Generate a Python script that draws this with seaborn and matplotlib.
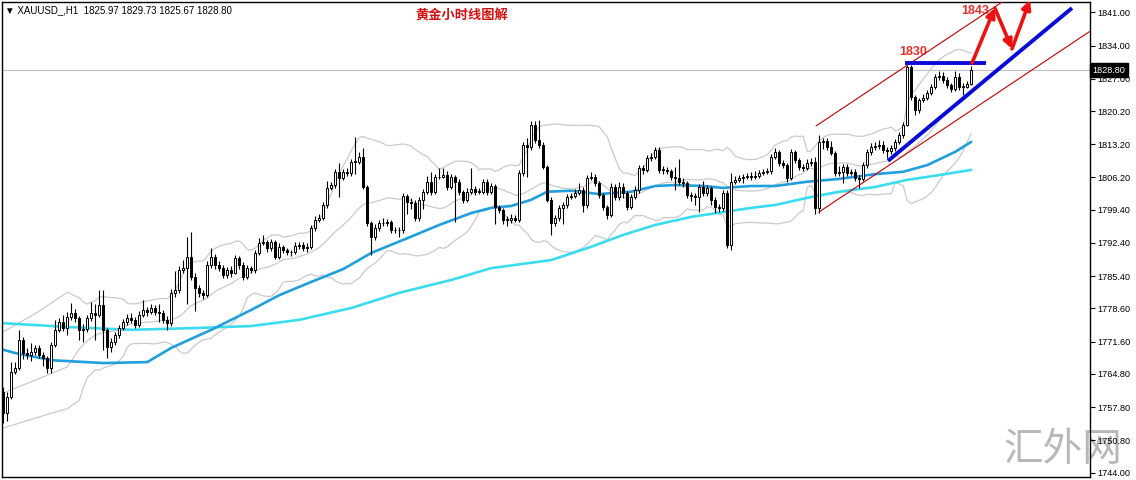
import numpy as np
import pandas as pd
import matplotlib
matplotlib.use("Agg")
import matplotlib.pyplot as plt
import matplotlib.transforms as mtransforms
import seaborn as sns

# --- hourly XAUUSD candles, open = previous close ---
first_open = 1761.0
closes = [
    1756.6, 1760.0, 1765.2, 1766.1, 1772.0, 1769.2, 1768.8, 1769.4, 1770.3, 1768.8,
    1768.2, 1766.1, 1770.9, 1774.1, 1775.8, 1774.5, 1776.8, 1777.7, 1776.6, 1774.1,
    1774.3, 1776.6, 1777.7, 1777.2, 1779.3, 1774.1, 1770.5, 1771.5, 1773.0, 1774.5,
    1775.8, 1776.6, 1776.2, 1775.1, 1777.2, 1778.3, 1777.9, 1778.7, 1777.9, 1777.7,
    1776.2, 1775.5, 1781.9, 1782.5, 1786.7, 1787.1, 1789.5, 1785.2, 1782.9, 1781.9,
    1781.4, 1787.8, 1789.5, 1787.8, 1787.1, 1785.7, 1786.7, 1786.1, 1789.2, 1787.8,
    1785.2, 1787.1, 1786.7, 1790.3, 1792.4, 1792.6, 1791.4, 1792.6, 1789.5, 1791.6,
    1790.9, 1790.5, 1790.5, 1791.8, 1792.0, 1791.4, 1791.6, 1795.6, 1797.3, 1797.7,
    1800.4, 1804.0, 1804.6, 1807.4, 1806.1, 1807.4, 1807.2, 1809.5, 1809.5, 1810.5,
    1804.2, 1796.6, 1793.7, 1795.6, 1796.6, 1796.6, 1796.8, 1795.1, 1795.1, 1795.1,
    1802.3, 1801.0, 1800.8, 1797.7, 1801.5, 1803.2, 1805.3, 1803.2, 1806.3, 1806.3,
    1806.7, 1804.2, 1806.3, 1805.3, 1803.2, 1801.5, 1803.2, 1803.8, 1803.2, 1803.2,
    1805.3, 1803.2, 1804.4, 1800.0, 1799.4, 1797.3, 1797.3, 1797.7, 1797.3, 1807.2,
    1813.1, 1812.6, 1817.3, 1814.1, 1813.1, 1808.4, 1801.5, 1796.6, 1797.7, 1799.8,
    1800.4, 1802.1, 1802.3, 1802.9, 1803.6, 1800.4, 1806.1, 1806.3, 1805.0, 1802.5,
    1800.0, 1798.3, 1804.2, 1802.1, 1804.2, 1802.9, 1800.0, 1802.1, 1803.6, 1808.2,
    1807.8, 1810.3, 1810.5, 1812.0, 1807.8, 1807.8, 1807.6, 1806.3, 1806.1, 1805.3,
    1805.0, 1802.5, 1802.3, 1802.1, 1804.2, 1802.9, 1804.0, 1801.5, 1800.0, 1799.8,
    1802.9, 1792.0, 1805.3, 1805.7, 1806.1, 1806.3, 1806.5, 1806.3, 1806.5, 1807.2,
    1807.4, 1807.6, 1810.5, 1811.6, 1809.3, 1808.8, 1806.1, 1811.6, 1809.9, 1808.4,
    1808.2, 1809.3, 1809.5, 1799.8, 1813.7, 1813.9, 1812.6, 1811.4, 1807.2, 1807.4,
    1808.4, 1807.2, 1807.4, 1806.1, 1805.9, 1808.8, 1811.6, 1812.6, 1812.8, 1813.1,
    1812.0, 1811.8, 1812.4, 1813.7, 1815.2, 1817.3, 1829.5, 1823.2, 1820.4, 1822.5,
    1823.0, 1824.0, 1825.3, 1827.4, 1827.6, 1826.7, 1825.7, 1824.9, 1827.4, 1825.3,
    1825.3, 1825.97, 1828.8,
]
highs = [
    1762.1, 1761.0, 1767.3, 1767.3, 1774.1, 1772.6, 1770.3, 1771.4, 1771.0, 1770.9,
    1769.4, 1768.6, 1771.5, 1776.2, 1776.6, 1777.2, 1777.9, 1779.7, 1778.5, 1777.0,
    1775.4, 1777.2, 1780.0, 1779.5, 1782.5, 1782.5, 1774.5, 1772.4, 1773.6, 1775.1,
    1776.4, 1777.4, 1777.7, 1776.8, 1778.0, 1780.3, 1779.0, 1779.5, 1779.3, 1779.5,
    1778.2, 1777.0, 1782.6, 1786.5, 1787.5, 1788.9, 1793.7, 1794.7, 1786.0, 1783.5,
    1782.5, 1788.5, 1791.3, 1790.0, 1788.5, 1787.8, 1787.4, 1787.5, 1789.9, 1789.7,
    1788.3, 1787.7, 1787.6, 1791.0, 1793.5, 1794.1, 1793.0, 1793.2, 1793.0, 1792.4,
    1792.0, 1791.4, 1791.0, 1792.5, 1792.6, 1792.5, 1792.3, 1796.2, 1798.0, 1798.6,
    1801.0, 1805.5, 1805.2, 1808.0, 1809.3, 1808.0, 1808.2, 1810.1, 1814.7, 1811.5,
    1812.4, 1804.6, 1797.0, 1796.3, 1797.2, 1797.6, 1797.4, 1797.2, 1795.8, 1795.7,
    1803.0, 1802.8, 1801.8, 1801.5, 1802.0, 1803.8, 1806.5, 1807.4, 1806.9, 1808.2,
    1808.2, 1807.5, 1806.9, 1806.8, 1805.8, 1803.6, 1803.9, 1808.2, 1804.4, 1804.0,
    1805.9, 1805.8, 1805.0, 1804.8, 1800.5, 1799.8, 1798.0, 1798.4, 1798.2, 1807.8,
    1813.7, 1814.5, 1818.0, 1818.0, 1818.4, 1813.6, 1808.9, 1802.0, 1798.3, 1800.3,
    1801.0, 1802.7, 1803.0, 1803.8, 1805.0, 1804.2, 1806.7, 1807.4, 1806.9, 1805.5,
    1803.0, 1800.5, 1805.0, 1804.8, 1805.2, 1805.0, 1803.4, 1802.8, 1804.3, 1808.8,
    1808.9, 1811.0, 1811.4, 1812.6, 1812.6, 1808.6, 1808.5, 1808.0, 1808.5, 1810.0,
    1806.0, 1805.4, 1803.2, 1803.0, 1804.8, 1805.5, 1804.6, 1804.5, 1802.0, 1800.6,
    1803.6, 1803.5, 1807.2, 1806.5, 1806.8, 1807.0, 1807.2, 1807.3, 1807.5, 1807.8,
    1808.0, 1808.3, 1811.2, 1812.4, 1812.0, 1809.8, 1809.3, 1812.2, 1812.0, 1810.4,
    1809.0, 1810.0, 1810.2, 1810.5, 1815.2, 1814.5, 1814.5, 1813.8, 1811.8, 1808.6,
    1809.0, 1809.0, 1808.0, 1808.0, 1806.8, 1809.4, 1812.2, 1813.4, 1813.6, 1814.0,
    1813.8, 1812.6, 1813.1, 1814.4, 1815.8, 1817.9, 1830.0, 1830.0, 1823.6, 1823.0,
    1823.8, 1824.6, 1825.9, 1828.0, 1828.6, 1828.5, 1827.4, 1826.2, 1828.7, 1828.2,
    1826.0, 1826.6, 1829.73,
]
lows = [
    1754.5, 1754.8, 1759.5, 1764.8, 1765.7, 1767.9, 1768.0, 1767.5, 1768.8, 1768.2,
    1766.5, 1765.0, 1765.0, 1770.5, 1773.6, 1773.9, 1773.0, 1776.2, 1775.8, 1772.0,
    1771.5, 1773.6, 1776.0, 1772.0, 1776.8, 1769.8, 1768.2, 1769.5, 1771.0, 1772.4,
    1774.0, 1775.2, 1775.5, 1774.5, 1774.7, 1776.8, 1777.0, 1777.4, 1777.2, 1775.8,
    1775.5, 1774.1, 1775.0, 1781.0, 1781.8, 1786.0, 1779.5, 1784.5, 1778.0, 1781.0,
    1780.5, 1781.0, 1787.2, 1787.0, 1786.5, 1785.0, 1785.0, 1785.2, 1785.8, 1787.0,
    1784.6, 1784.8, 1786.0, 1786.0, 1789.8, 1792.0, 1790.6, 1790.8, 1789.0, 1789.0,
    1790.3, 1789.8, 1789.6, 1790.0, 1791.2, 1790.8, 1790.6, 1791.2, 1795.0, 1796.8,
    1797.2, 1799.8, 1803.5, 1803.9, 1802.1, 1805.6, 1806.5, 1806.5, 1807.0, 1809.0,
    1803.8, 1796.0, 1789.9, 1793.0, 1795.0, 1795.9, 1796.0, 1794.6, 1794.4, 1793.7,
    1794.6, 1798.5, 1799.6, 1797.0, 1797.0, 1799.5, 1802.8, 1802.6, 1802.8, 1805.8,
    1806.0, 1803.6, 1803.8, 1796.8, 1802.6, 1800.8, 1801.0, 1802.8, 1802.6, 1802.7,
    1802.8, 1802.6, 1802.8, 1796.5, 1798.8, 1796.3, 1796.0, 1796.7, 1796.8, 1796.9,
    1806.6, 1806.3, 1812.0, 1813.5, 1812.5, 1807.9, 1801.0, 1794.1, 1796.0, 1797.0,
    1796.3, 1799.8, 1801.6, 1801.8, 1802.5, 1799.0, 1799.7, 1805.6, 1804.5, 1801.9,
    1799.4, 1797.5, 1797.8, 1801.5, 1801.5, 1801.8, 1799.4, 1799.5, 1801.6, 1803.0,
    1807.0, 1807.3, 1809.6, 1810.0, 1807.2, 1807.0, 1806.9, 1805.7, 1803.5, 1804.7,
    1804.2, 1801.8, 1801.2, 1800.5, 1799.0, 1802.3, 1802.4, 1800.3, 1798.8, 1799.0,
    1799.2, 1791.4, 1791.0, 1804.8, 1805.2, 1805.0, 1805.8, 1805.6, 1805.8, 1806.0,
    1806.8, 1806.9, 1807.0, 1810.0, 1808.7, 1808.2, 1805.3, 1805.6, 1809.2, 1807.8,
    1807.5, 1807.7, 1808.7, 1798.5, 1798.8, 1812.2, 1812.0, 1810.9, 1806.6, 1806.5,
    1805.0, 1806.6, 1806.8, 1805.5, 1804.0, 1805.5, 1808.2, 1811.0, 1812.0, 1812.3,
    1811.4, 1810.3, 1811.2, 1811.8, 1813.2, 1814.6, 1817.0, 1822.6, 1819.3, 1819.8,
    1822.0, 1822.5, 1823.5, 1824.8, 1826.8, 1826.1, 1825.1, 1824.3, 1824.4, 1824.7,
    1823.6, 1825.0, 1825.67,
]

# --- moving averages (bar index, price) ---
ma_fast_idx = [0, 3, 12, 25, 36, 42, 52, 62, 69, 77, 85, 92, 101, 109, 117, 122, 127, 132, 136,
               142, 149, 157, 163, 168, 175, 180, 187, 193, 201, 209, 218, 225, 231, 238, 242]
ma_fast_val = [1769.9, 1769.2, 1767.7, 1767.1, 1767.3, 1770.3, 1774.1, 1778.3, 1781.4, 1784.2,
               1786.9, 1790.3, 1793.4, 1796.2, 1798.7, 1799.8, 1800.2, 1801.5, 1803.2, 1803.4,
               1802.7, 1803.2, 1804.4, 1804.6, 1804.4, 1804.0, 1804.4, 1804.4, 1805.3, 1805.9,
               1806.9, 1807.4, 1808.8, 1811.6, 1813.7]
ma_slow_idx = [0, 16, 32, 49, 62, 74, 87, 99, 112, 122, 137, 147, 155, 163, 172, 180, 187, 193,
               201, 209, 218, 226, 234, 242]
ma_slow_val = [1775.5, 1774.7, 1774.1, 1774.5, 1774.9, 1776.2, 1778.7, 1781.9, 1784.6, 1787.1,
               1788.8, 1791.6, 1794.1, 1796.2, 1797.9, 1798.9, 1799.8, 1800.4, 1801.9, 1803.2,
               1804.2, 1805.7, 1806.7, 1807.8]

# Bollinger(20, 2) is drawn from the closes; before bar 19 the history is off-chart,
# so the first stretch of each band is read from the picture
bb_period = 20
bb_head_idx = [0, 8, 16]
bb_head_upper = [1773.7, 1777.5, 1782.0]
bb_head_mid = [1760.8, 1763.5, 1766.3]
bb_head_lower = [1753.4, 1755.5, 1757.5]

# --- hand-drawn analysis objects ---
channel_upper_x = [203.2, 271.7]
channel_upper_y = [1817.05, 1855.5]
channel_lower_x = [203.9, 271.7]
channel_lower_y = [1798.9, 1837.0]
resistance_x = [225.4, 245.7]
resistance_y = [1830.4, 1830.4]
trend_x = [221.2, 267.2]
trend_y = [1809.7, 1841.9]
path_x = [242.2, 247.9, 252.2, 256.7]
path_y = [1830.3, 1841.9, 1833.3, 1843.6]

ytick_vals = [1841.0, 1834.0, 1827.0, 1820.2, 1813.2, 1806.2, 1799.4, 1792.4, 1785.4,
              1778.6, 1771.6, 1764.8, 1757.8, 1750.8, 1744.0]
last_price = 1828.80

sns.set_theme(style="white")
plt.rcParams['font.family'] = ['Liberation Sans', 'DejaVu Sans']

df = pd.DataFrame({'close': closes, 'high': highs, 'low': lows})
df['open'] = [first_open] + closes[:-1]
df['idx'] = np.arange(len(df))
up = df[df['close'] >= df['open']]
down = df[df['close'] < df['open']]

mid = df['close'].rolling(bb_period).mean()
sd = df['close'].rolling(bb_period).std(ddof=0)
bb = df[['idx']].assign(mid=mid, upper=mid + 2 * sd, lower=mid - 2 * sd).dropna()
head = pd.DataFrame({'idx': bb_head_idx, 'mid': bb_head_mid,
                     'upper': bb_head_upper, 'lower': bb_head_lower})
bb = pd.concat([head, bb], ignore_index=True)

fig = plt.figure(figsize=(11.36, 4.8), dpi=100)
ax = fig.add_axes([2 / 1136, 3 / 480, 1088 / 1136, 475 / 480])
ax.patch.set_alpha(0)
ax.set_xlim(-0.33, 271.7)
ax.set_ylim(1743.09, 1843.17)

# Bollinger bands + moving averages
for col in ['upper', 'mid', 'lower']:
    sns.lineplot(data=bb, x='idx', y=col, ax=ax, color='#cacaca', linewidth=0.9, zorder=1)
sns.lineplot(x=ma_slow_idx, y=ma_slow_val, ax=ax, color='#3cdcf0', linewidth=1.9, zorder=2)
sns.lineplot(x=ma_fast_idx, y=ma_fast_val, ax=ax, color='#1f9fdc', linewidth=1.9, zorder=2)
ax.set_xlabel('')
ax.set_ylabel('')

ax.axhline(last_price, color='#c0c0c0', linewidth=0.8, zorder=1)

# candles
ax.vlines(df['idx'], df['low'], df['high'], color='black', linewidth=0.8, zorder=3)
ax.bar(up['idx'], np.maximum(up['close'] - up['open'], 0.08), bottom=up['open'], width=0.55,
       color='white', edgecolor='black', linewidth=0.7, zorder=4)
ax.bar(down['idx'], down['open'] - down['close'], bottom=down['close'], width=0.55,
       color='black', edgecolor='black', linewidth=0.7, zorder=4)

# red price channel
ax.plot(channel_upper_x, channel_upper_y, color='#c00000', linewidth=0.8, zorder=5)
ax.plot(channel_lower_x, channel_lower_y, color='#c00000', linewidth=0.8, zorder=5)

# blue resistance + trend line
ax.plot(resistance_x, resistance_y, color='#0a0ad8', linewidth=2.8, zorder=6, solid_capstyle='butt')
ax.plot(trend_x, trend_y, color='#0a0ad8', linewidth=2.8, zorder=6, solid_capstyle='butt')

# red forecast arrows
for i in range(len(path_x) - 1):
    ax.annotate('', xy=(path_x[i + 1], path_y[i + 1]), xytext=(path_x[i], path_y[i]),
                arrowprops=dict(arrowstyle='-|>', color='#ee1111', lw=2.6, mutation_scale=13,
                                shrinkA=0, shrinkB=0), annotation_clip=False, zorder=7)

ax.text(227.4, 1832.6, '1830', color='#e8302c', fontsize=9, fontweight='bold', ha='center', va='center')
ax.text(242.9, 1841.3, '1843', color='#e8302c', fontsize=9, fontweight='bold', ha='center', va='center')

# axes styling
ax.yaxis.tick_right()
ax.set_yticks(ytick_vals)
ax.set_yticklabels([f'{v:.2f}' for v in ytick_vals], fontsize=6.6)
ax.tick_params(axis='y', length=3.5, width=0.8, color='black', pad=2, labelcolor='black')
ax.set_xticks([])
for s in ax.spines.values():
    s.set_color('black')
    s.set_linewidth(1.0)
    s.set_visible(True)

trans = mtransforms.blended_transform_factory(ax.transAxes, ax.transData)
ax.text(1.0025, last_price, f'{last_price:.2f}', transform=trans, fontsize=6.6, color='white',
        va='center', ha='left', zorder=10,
        bbox=dict(boxstyle='square,pad=0.25', facecolor='black', edgecolor='black'))

fig.text(5 / 1136, 1 - 10 / 480, '▼ XAUUSD_,H1  1825.97 1829.73 1825.67 1828.80',
         fontsize=7, color='black', va='center', ha='left')
fig.text(462 / 1136, 1 - 16 / 480, '黄金小时线图解', fontsize=9.5, color='#d41010',
         fontweight='bold', family=['Noto Sans CJK SC', 'DejaVu Sans'], ha='center', va='center')
# watermark sits behind the (transparent) axes so frame and labels draw over it
fig.text(1063 / 1136, 1 - 450 / 480, '汇外网', fontsize=28.5, color='#b8b8b8', fontweight='light',
         family=['Noto Sans CJK SC', 'DejaVu Sans'], ha='center', va='center', zorder=-1)

fig.savefig('out.png', dpi=100, facecolor='white')
